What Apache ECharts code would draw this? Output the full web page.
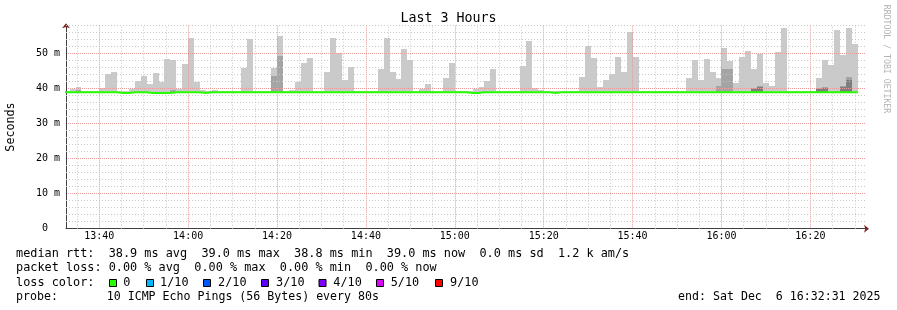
<!DOCTYPE html>
<html><head><meta charset="utf-8">
<script src="https://cdn.jsdelivr.net/npm/echarts@6/dist/echarts.min.js"></script>
<style>html,body{margin:0;padding:0;background:#fff}#c{width:897px;height:310px}</style>
</head><body><div id="c"></div>
<script>
// ---------- data ----------
const titleText = 'Last 3 Hours';
const yAxisTitle = 'Seconds';
const watermark = 'RRDTOOL / TOBI OETIKER';
const stepSeconds = 80;                 // RRD step (one smoke column)
const firstSlot = [13, 32, 0];          // start of first (partial) column, local time
const rangeStart = [13, 32, 31];
const rangeEnd = [16, 32, 31];
const smokeMin = 38.7;                  // lowest ping (ms)
// highest ping per column (ms) -> light smoke top
const smokeMax = [
  39.2, 39.8, 40.4, 39.2, 39.2, 39.2, 40.1, 44.1, 44.7, 39.2,
  39.2, 39.8, 42.1, 43.5, 41.2, 44.4, 41.8, 48.4, 48.1, 40.0,
  47.0, 54.5, 41.9, 39.6, 39.2, 39.6, 39.2, 39.2, 39.2, 39.2,
  45.9, 54.1, 39.2, 39.2, 39.2, 45.9, 55.0, 39.2, 39.5, 41.8,
  47.3, 48.7, 39.2, 39.2, 44.7, 54.4, 50.1, 42.4, 46.1, 39.4,
  39.2, 39.2, 39.2, 45.5, 54.4, 44.7, 42.7, 51.2, 48.1, 39.2,
  40.0, 41.2, 39.2, 39.2, 43.0, 47.3, 39.2, 39.2, 39.2, 39.8,
  40.4, 42.1, 45.5, 39.2, 39.2, 39.2, 39.2, 46.4, 53.5, 40.3,
  39.5, 39.2, 39.2, 39.2, 39.2, 39.2, 39.2, 43.2, 52.1, 48.7,
  40.5, 42.4, 44.1, 49.0, 44.7, 56.1, 49.0, 39.2, 39.2, 39.2,
  39.2, 39.2, 39.2, 39.2, 39.2, 43.0, 48.1, 42.4, 48.4, 44.7,
  43.0, 51.5, 47.8, 41.5, 49.0, 50.7, 45.5, 49.8, 41.5, 40.7,
  50.4, 57.3, 39.2, 39.2, 39.2, 39.2, 39.2, 43.0, 48.1, 46.7,
  56.8, 49.5, 57.3, 52.7
];
// second band top (ms), null = hidden under median
const smokeMid = [
  null, null, 39.6, null, null, null, null, null, null, null,
  null, null, null, null, null, null, null, null, 39.6, null,
  null, null, null, null, null, null, null, null, null, null,
  null, null, null, null, null, 43.6, 49.2, null, null, null,
  null, null, null, null, null, null, null, null, null, null,
  null, null, null, null, null, null, null, null, null, null,
  null, null, null, null, null, null, null, null, null, null,
  null, null, null, null, null, null, null, null, null, null,
  null, null, null, null, null, null, null, null, null, null,
  null, null, null, null, null, null, null, null, null, null,
  null, null, null, null, null, null, null, null, null, null,
  40.7, 45.5, 45.5, null, null, null, 40.2, 40.7, null, null,
  null, null, null, null, null, null, null, 40.2, 40.4, null,
  null, 40.8, 43.2, null
];
// third band top (ms)
const smokeDark = [
  null, null, null, null, null, null, null, null, null, null,
  null, null, null, null, null, null, null, null, null, null,
  null, null, null, null, null, null, null, null, null, null,
  null, null, null, null, null, null, null, null, null, null,
  null, null, null, null, null, null, null, null, null, null,
  null, null, null, null, null, null, null, null, null, null,
  null, null, null, null, null, null, null, null, null, null,
  null, null, null, null, null, null, null, null, null, null,
  null, null, null, null, null, null, null, null, null, null,
  null, null, null, null, null, null, null, null, null, null,
  null, null, null, null, null, null, null, null, null, null,
  null, null, null, null, null, null, 40.0, 40.4, null, null,
  null, null, null, null, null, null, null, 40.0, 40.2, null,
  null, 40.6, 42.4, null
];
// median rtt per column (ms)
const median = [
  39.0, 39.0, 39.0, 39.0, 39.0, 39.0, 39.0, 39.0, 39.0, 38.8,
  38.8, 39.0, 39.0, 39.0, 38.8, 38.8, 38.8, 38.8, 39.0, 39.0,
  39.0, 39.0, 39.0, 38.8, 39.0, 39.0, 39.0, 39.0, 39.0, 39.0,
  39.0, 39.0, 39.0, 39.0, 39.0, 39.0, 39.0, 39.0, 39.0, 39.0,
  39.0, 39.0, 39.0, 39.0, 39.0, 39.0, 39.0, 39.0, 39.0, 39.0,
  39.0, 39.0, 39.0, 39.0, 39.0, 39.0, 39.0, 39.0, 39.0, 39.0,
  39.0, 39.0, 39.0, 39.0, 39.0, 39.0, 39.0, 39.0, 38.8, 38.8,
  39.0, 39.0, 39.0, 39.0, 39.0, 39.0, 39.0, 39.0, 39.0, 39.0,
  39.0, 39.0, 38.8, 39.0, 39.0, 39.0, 39.0, 39.0, 39.0, 39.0,
  39.0, 39.0, 39.0, 39.0, 39.0, 39.0, 39.0, 39.0, 39.0, 39.0,
  39.0, 39.0, 39.0, 39.0, 39.0, 39.0, 39.0, 39.0, 39.0, 39.0,
  39.0, 39.0, 39.0, 39.0, 39.0, 39.0, 39.0, 39.0, 39.0, 39.0,
  39.0, 39.0, 39.0, 39.0, 39.0, 39.0, 39.0, 39.0, 39.0, 39.0,
  39.0, 39.0, 39.0, 39.0
];
const yMax = 58;
const yMajor = 10;
const yMinor = 2;
const xMajorMinutes = 20;
const xMinorMinutes = 5;
const legendLines = [
  'median rtt:  38.9 ms avg  39.0 ms max  38.8 ms min  39.0 ms now  0.0 ms sd  1.2 k am/s',
  'packet loss: 0.00 % avg  0.00 % max  0.00 % min  0.00 % now'
];
const lossColorLabel = 'loss color:';
const lossLabels = ['0', '1/10', '2/10', '3/10', '4/10', '5/10', '9/10'];
const lossColors = ['#26ff00', '#00b8ff', '#0059ff', '#5e00ff', '#7e00ff', '#dd00ff', '#ff0000'];
const probeLine = 'probe:       10 ICMP Echo Pings (56 Bytes) every 80s';
const endLine = 'end: Sat Dec  6 16:32:31 2025';

// ---------- build (x in minutes since midnight) ----------
const toMin = a => a[0] * 60 + a[1] + a[2] / 60;
const t0 = toMin(firstSlot), xMin = toMin(rangeStart), xMax = toMin(rangeEnd);
const stepMin = stepSeconds / 60;
const slotStart = i => t0 + i * stepMin;
const fmtHM = v => { const m = Math.round(v); const h = Math.floor(m / 60), mm = m % 60; return (h < 10 ? '0' : '') + h + ':' + (mm < 10 ? '0' : '') + mm; };

const smokeData = smokeMax.map((v, i) => [slotStart(i), slotStart(i + 1), v,
  smokeMid[i] == null ? 0 : smokeMid[i], smokeDark[i] == null ? 0 : smokeDark[i]]);
const medianData = median.map((v, i) => [slotStart(i), v]);
medianData.push([slotStart(median.length), median[median.length - 1]]);

// minor grid lines (not on major positions)
const minorLines = [];
for (let m = Math.ceil(xMin / xMinorMinutes) * xMinorMinutes; m < xMax; m += xMinorMinutes) {
  if (m % xMajorMinutes !== 0) minorLines.push({ xAxis: m });
}
for (let v = yMinor; v <= yMax; v += yMinor) {
  if (v % yMajor !== 0) minorLines.push({ yAxis: v });
}

const bandColors = ['#cacaca', '#a4a4a4', '#7e7e7e'];
function renderSmoke(params, api) {
  const cs = params.coordSys;
  const a = api.value(0), b = api.value(1);
  const children = [];
  for (let k = 0; k < 3; k++) {
    const hi = api.value(2 + k);
    if (!(hi > smokeMin)) continue;
    const p0 = api.coord([a, hi]);
    const p1 = api.coord([b, smokeMin]);
    const x0 = Math.round(p0[0]), x1 = Math.round(p1[0]);
    const y0 = Math.round(p0[1]), y1 = Math.round(p1[1]);
    const shape = echarts.graphic.clipRectByRect(
      { x: x0, y: y0, width: x1 - x0, height: y1 - y0 },
      { x: cs.x, y: cs.y, width: cs.width, height: cs.height });
    if (shape) children.push({ type: 'rect', shape: shape, style: { fill: bandColors[k] } });
  }
  return { type: 'group', children: children };
}

const mono = '"DejaVu Sans Mono", monospace';
const MAJOR = '#eb9a9a', MINOR = '#c8c8c8', AXIS = '#404040', ARROW = '#801f1f';

const graphics = [];
const txt = (x, y, text, font, extra) => graphics.push({
  type: 'text', x: x, y: y, silent: true, z: 10,
  style: Object.assign({ text: text, font: font, fill: '#000', align: 'left', verticalAlign: 'middle' }, extra || {})
});
txt(448.5, 19, titleText, '13.3px ' + mono, { align: 'center' });
graphics.push({ type: 'text', x: 11, y: 127, rotation: Math.PI / 2, silent: true,
  style: { text: yAxisTitle, font: '11.7px ' + mono, fill: '#000', align: 'center', verticalAlign: 'middle' } });
graphics.push({ type: 'text', x: 886, y: 59, rotation: -Math.PI / 2, silent: true,
  style: { text: watermark, font: '8.2px ' + mono, fill: '#b4b4b4', align: 'center', verticalAlign: 'middle' } });
const legFont = '11.85px ' + mono;
const legFontSmall = '11.6px ' + mono;
txt(16, 254.3, legendLines[0], legFont);
txt(16, 268.3, legendLines[1], legFont);
txt(16, 282.7, lossColorLabel, legFont);
const swX = [109, 146, 203, 261, 318.5, 376, 435];
const lbX = [123.3, 160, 218, 276, 333.3, 390.7, 450];
lossLabels.forEach((l, i) => {
  graphics.push({ type: 'rect', silent: true, shape: { x: swX[i] + 0.5, y: 279.5, width: 7, height: 7 },
    style: { fill: lossColors[i], stroke: '#000', lineWidth: 1 } });
  txt(lbX[i], 282.7, l, legFont);
});
txt(16, 296.7, probeLine, legFontSmall);
txt(880.5, 296.7, endLine, legFontSmall, { align: 'right' });

const hidden = { axisTick: { show: false }, axisLabel: { show: false }, splitLine: { show: false } };
const chart = echarts.init(document.getElementById('c'), null, { renderer: 'canvas', width: 897, height: 310 });
chart.setOption({
  animation: false,
  backgroundColor: '#ffffff',
  grid: { left: 66, top: 25.7, width: 800, height: 203, containLabel: false, outerBoundsMode: 'none' },
  xAxis: [{
    // major time grid + labels; nice interval of 20 minutes
    type: 'value', min: xMin, max: xMax, splitNumber: (xMax - xMin) / xMajorMinutes, z: 4,
    axisLine: { show: true, lineStyle: { color: AXIS, width: 1 } },
    axisTick: { show: false },
    axisLabel: { formatter: fmtHM, showMinLabel: false, showMaxLabel: false, margin: 3,
      fontFamily: mono, fontSize: 10, color: '#000' },
    splitLine: { show: true, showMinLine: false, showMaxLine: false, lineStyle: { color: MAJOR, type: [1, 1], width: 1 } }
  }, Object.assign({}, hidden, {
    type: 'value', min: xMin, max: xMax, position: 'bottom', z: 4,
    axisLine: { show: true, symbol: ['none', 'arrow'], symbolSize: [6, 5], symbolOffset: [0, 3], lineStyle: { color: ARROW, width: 0 } }
  })],
  yAxis: [{
    // major horizontal grid + labels
    type: 'value', min: 0, max: yMax, interval: yMajor, z: 4, position: 'left',
    axisLine: { show: true, lineStyle: { color: AXIS, width: 1 } },
    axisTick: { show: false },
    axisLabel: { margin: 6, fontFamily: mono, fontSize: 10, color: '#000', showMaxLabel: false,
      formatter: v => { const r = Math.round(v); return r === 0 ? '0  ' : r + ' m'; } },
    splitLine: { show: true, showMinLine: false, showMaxLine: false, lineStyle: { color: MAJOR, type: [1, 1], width: 1 } }
  }, Object.assign({}, hidden, {
    type: 'value', min: 0, max: yMax, position: 'left', z: 4,
    axisLine: { show: true, symbol: ['none', 'arrow'], symbolSize: [6, 5], symbolOffset: [0, 2.4], lineStyle: { color: ARROW, width: 0 } }
  })],
  series: [{
    type: 'custom', name: 'smoke', xAxisIndex: 0, yAxisIndex: 0, z: 2, silent: true,
    renderItem: renderSmoke, encode: { x: [0, 1], y: [2] }, data: smokeData
  }, {
    type: 'line', name: 'grid', xAxisIndex: 0, yAxisIndex: 0, z: 3, data: [], silent: true,
    markLine: { silent: true, symbol: ['none', 'none'], label: { show: false }, animation: false,
      lineStyle: { color: MINOR, type: [1, 2], width: 1 }, data: minorLines }
  }, {
    type: 'line', name: 'median rtt', xAxisIndex: 0, yAxisIndex: 0, z: 5, step: 'end',
    showSymbol: false, symbol: 'none', clip: true, silent: true,
    lineStyle: { color: '#26ff00', width: 2 }, data: medianData
  }],
  graphic: graphics
});
</script></body></html>
